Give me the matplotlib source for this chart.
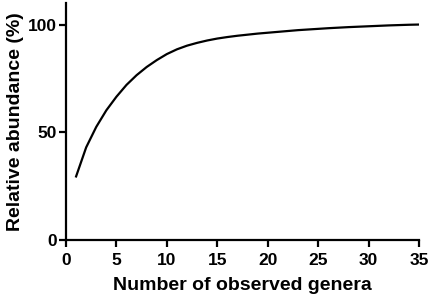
import numpy as np
import matplotlib.pyplot as plt

plt.rcParams["font.family"] = ["Liberation Sans", "DejaVu Sans"]
plt.rcParams["font.weight"] = "bold"

genera = np.arange(1, 36)
abundance = [29.5, 43, 52.5, 60.2, 66.5, 72, 76.5, 80.3, 83.5, 86.3,
             88.5, 90.2, 91.5, 92.6, 93.5, 94.2, 94.8, 95.3, 95.8, 96.2,
             96.6, 97.0, 97.4, 97.7, 98.0, 98.3, 98.55, 98.8, 99.0, 99.2,
             99.4, 99.6, 99.75, 99.9, 100]
xticks = [0, 5, 10, 15, 20, 25, 30, 35]
yticks = [0, 50, 100]

fig = plt.figure(figsize=(4.31, 2.98), dpi=100)
ax = fig.add_axes([66 / 431, 58 / 298, 353 / 431, 237 / 298])

ax.plot(genera, abundance, color="black", linewidth=1.6)

ax.set_xlim(0, 35)
ax.set_ylim(0, 110)
ax.set_xticks(xticks)
ax.set_yticks(yticks)
ax.spines["top"].set_visible(False)
ax.spines["right"].set_visible(False)
for s in ("left", "bottom"):
    ax.spines[s].set_linewidth(1.6)
ax.tick_params(direction="out", length=5, width=1.6, labelsize=12.5)
ax.tick_params(axis="x", pad=4.5)
ax.tick_params(axis="y", pad=1.5)
for lab in ax.get_xticklabels() + ax.get_yticklabels():
    lab.set_fontweight("bold")

ax.set_xlabel("Number of observed genera", fontsize=14, fontweight="bold", labelpad=6)
ax.set_ylabel("Relative abundance (%)", fontsize=14, fontweight="bold", labelpad=3)

fig.savefig("out.png", dpi=100)
